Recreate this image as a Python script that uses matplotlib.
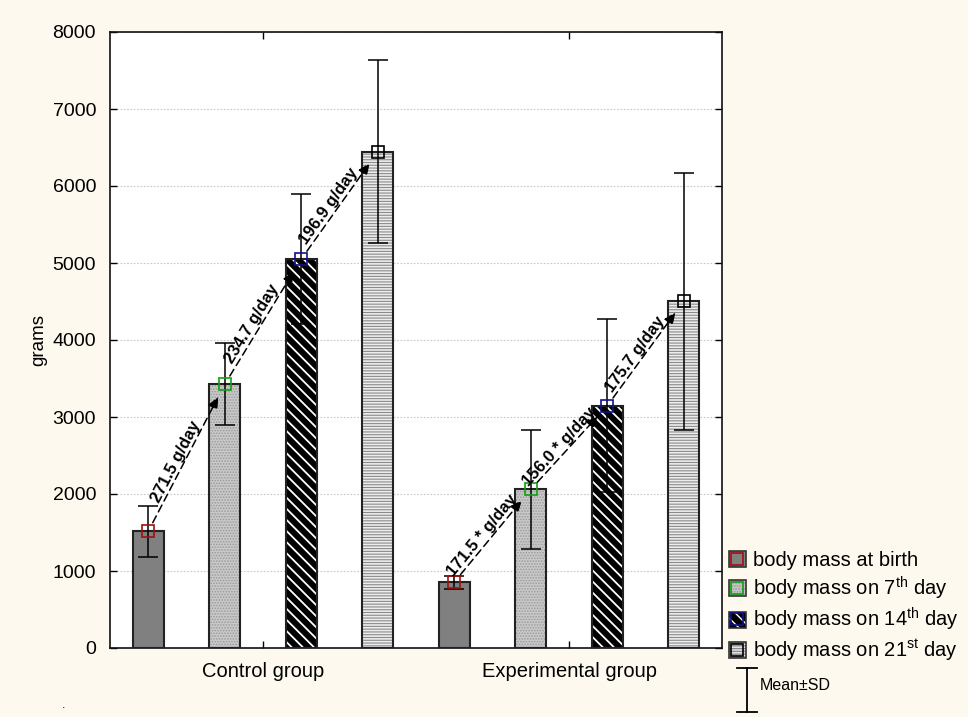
import math
import matplotlib
matplotlib.use("Agg")
import matplotlib.pyplot as plt
from matplotlib.patches import Patch
from matplotlib.lines import Line2D
import numpy as np

plt.rcParams['font.family'] = ['Liberation Sans', 'DejaVu Sans']
plt.rcParams['mathtext.fontset'] = 'custom'
plt.rcParams['mathtext.rm'] = 'Liberation Sans'
plt.rcParams['mathtext.it'] = 'Liberation Sans:italic'
plt.rcParams['mathtext.bf'] = 'Liberation Sans:bold'

# ---- data ----
groups = ["Control group", "Experimental group"]
series = ["body mass at birth", "body mass on 7$^{\\mathrm{th}}$ day",
          "body mass on 14$^{\\mathrm{th}}$ day", "body mass on 21$^{\\mathrm{st}}$ day"]
control_mean = [1515, 3425, 5050, 6445]
control_sd = [330, 530, 840, 1185]
exp_mean = [855, 2060, 3145, 4505]
exp_sd = [85, 770, 1125, 1670]
control_rates = ["271.5 g/day", "234.7 g/day", "196.9 g/day"]
exp_rates = ["171.5 * g/day", "156.0 * g/day", "175.7 g/day"]
yticks = [0, 1000, 2000, 3000, 4000, 5000, 6000, 7000, 8000]

# ---- styles ----
face = ['#808080', '#C9C9C9', '#000000', '#EDEDED']
hatch = [None, '......', '\\\\\\', '------']
hatch_col = ['#808080', '#9A9A9A', '#FFFFFF', '#8A8A8A']
marker_col = ['#A01010', '#10A010', '#101090', '#000000']

W, H = 968, 717
fig = plt.figure(figsize=(W / 100, H / 100), dpi=100, facecolor='#FEF9EE')
ax = fig.add_axes([110 / W, 1 - 648 / H, (722 - 110) / W, (648 - 32) / H])
ax.set_facecolor('white')
ax.set_xlim(-0.5, 7.5)
ax.set_ylim(0, 8000)

means_all = [control_mean, exp_mean]
sds_all = [control_sd, exp_sd]
bw = 0.4
for g in range(2):
    for s in range(4):
        x = g * 4 + s
        m = means_all[g][s]
        sd = sds_all[g][s]
        p = ax.bar(x, m, width=bw, color=face[s], edgecolor=hatch_col[s],
                   hatch=hatch[s], linewidth=0, zorder=2)
        for patch in p:
            try:
                patch.set_hatch_linewidth(1.3 if s == 2 else 0.8)
            except Exception:
                pass
        ax.bar(x, m, width=bw, fill=False, edgecolor='#222222', linewidth=1.5, zorder=3)
        ax.errorbar(x, m, yerr=sd, fmt='none', ecolor='black', elinewidth=1.1,
                    capsize=7, capthick=1.1, zorder=4)
        ax.plot(x, m, marker='s', markersize=8, markerfacecolor='none',
                markeredgecolor=marker_col[s], markeredgewidth=1.2, zorder=5)

# arrows and rate labels
fig.canvas.draw()
rates_all = [control_rates, exp_rates]
for g in range(2):
    for s in range(3):
        x0, x1 = g * 4 + s, g * 4 + s + 1
        y0, y1 = means_all[g][s], means_all[g][s + 1]
        ax.annotate('', xy=(x1, y1), xytext=(x0, y0),
                    arrowprops=dict(arrowstyle='-|>,head_length=0.7,head_width=0.3',
                                    linestyle=(0, (5, 3)), color='black', lw=1.1,
                                    shrinkA=7, shrinkB=10),
                    zorder=6)
        p0 = ax.transData.transform((x0, y0))
        p1 = ax.transData.transform((x1, y1))
        dx, dy = p1 - p0
        ang = math.degrees(math.atan2(dy, dx))
        L = math.hypot(dx, dy)
        ux, uy = dx / L, dy / L
        nx, ny = -uy, ux
        mx = p0[0] + dx * 0.45 + nx * 8
        my = p0[1] + dy * 0.45 + ny * 8
        ax.annotate(rates_all[g][s], xy=(mx, my), xycoords='figure pixels',
                    rotation=ang, rotation_mode='anchor', ha='center', va='center',
                    fontsize=12, fontweight='bold', zorder=7)

ax.set_yticks(yticks)
ax.set_yticklabels([str(v) for v in yticks], fontsize=14)
ax.set_xticks([1.5, 5.5])
ax.set_xticklabels(groups, fontsize=14.5)
ax.tick_params(axis='both', direction='in', top=True, right=True, length=5,
               width=1, pad=10)
ax.tick_params(axis='x', pad=10)
ax.grid(axis='y', color='#C8C8C8', linestyle=(0, (1.5, 1.5)), linewidth=0.8, zorder=0)
ax.set_axisbelow(True)
for sp in ax.spines.values():
    sp.set_linewidth(1.2)
    sp.set_color('#111111')
ax.set_ylabel('grams', fontsize=13.5, labelpad=4)

# legend
handles = []
for s in range(4):
    ph = Patch(facecolor=face[s], edgecolor=hatch_col[s], hatch=hatch[s], linewidth=0)
    pe = Patch(facecolor='none', edgecolor='#333333', linewidth=1.2)
    mk = Line2D([], [], marker='s', markersize=8, markerfacecolor='none',
                markeredgecolor=marker_col[s], markeredgewidth=1.2, linestyle='none')
    handles.append((ph, pe, mk))
leg = fig.legend(handles, series, loc='upper left',
                 bbox_to_anchor=(729 / W, 1 - 551 / H), frameon=False,
                 fontsize=14.5, handlelength=0.82, handleheight=0.82, handletextpad=0.38,
                 labelspacing=0.22, borderaxespad=0, borderpad=0)

# Mean±SD key
fx = lambda px: px / W
fy = lambda py: 1 - py / H
fig.add_artist(Line2D([fx(747), fx(747)], [fy(668), fy(712)], color='black', lw=1.3))
fig.add_artist(Line2D([fx(737), fx(757)], [fy(668), fy(668)], color='black', lw=1.3))
fig.add_artist(Line2D([fx(737), fx(757)], [fy(712), fy(712)], color='black', lw=1.3))
fig.text(fx(760), fy(686), 'Mean±SD', fontsize=11.5, va='center', ha='left')
fig.text(fx(62), fy(705), '.', fontsize=9, va='center', ha='left')

fig.savefig('out.png', dpi=100, facecolor=fig.get_facecolor())
